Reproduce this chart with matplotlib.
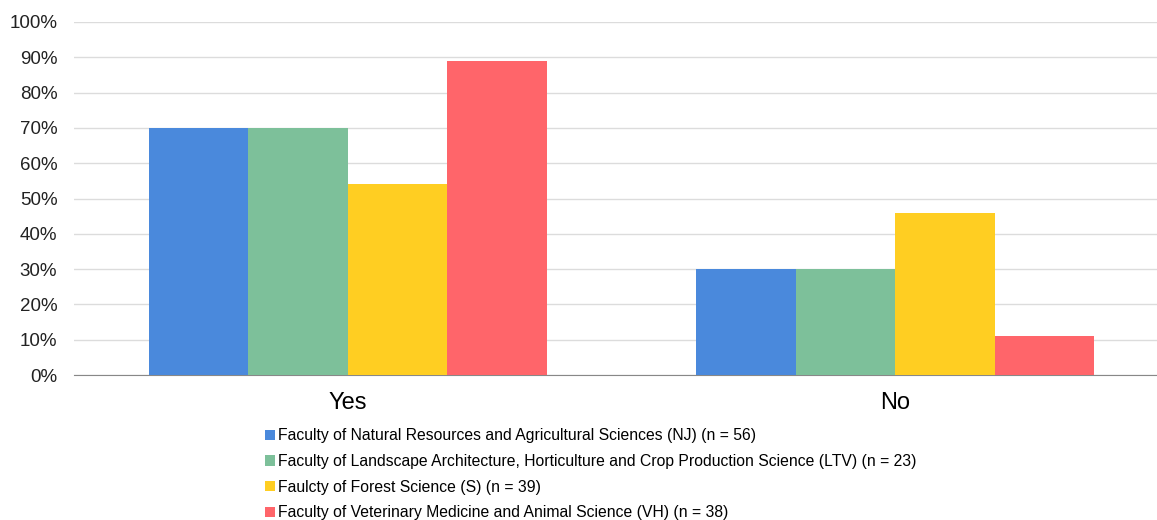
import numpy as np
import matplotlib.pyplot as plt
from matplotlib.ticker import PercentFormatter

plt.rcParams['font.family'] = ['Liberation Sans', 'DejaVu Sans']

# dati
categorie = ['Yes', 'No']
facolta = [
    'Faculty of Natural Resources and Agricultural Sciences (NJ) (n = 56)',
    'Faculty of Landscape Architecture, Horticulture and Crop Production Science (LTV) (n = 23)',
    'Faulcty of Forest Science (S) (n = 39)',
    'Faculty of Veterinary Medicine and Animal Science (VH) (n = 38)',
]
nj = [70, 30]
ltv = [70, 30]
s = [54, 46]
vh = [89, 11]
colori = ['#4A89DC', '#7DC09A', '#FFCE22', '#FF656A']

fig = plt.figure(figsize=(11.57, 5.2), dpi=100)
ax = fig.add_axes([74 / 1157, 145 / 520, 1095 / 1157, 353 / 520])

x = np.arange(len(categorie))
larghezza = 0.1816
serie = [nj, ltv, s, vh]
for i, valori in enumerate(serie):
    ax.bar(x + (i - 1.5) * larghezza, valori, larghezza, color=colori[i],
           label=facolta[i], zorder=3)

ax.set_xlim(-0.5, 1.5)
ax.set_ylim(0, 100)
ax.set_yticks(range(0, 101, 10))
ax.yaxis.set_major_formatter(PercentFormatter(decimals=0))
ax.set_xticks(x)
ax.set_xticklabels(categorie, fontsize=17)
ax.tick_params(axis='y', length=0, labelsize=13.5, pad=12, colors='#222222')
ax.tick_params(axis='x', length=0, pad=12)
ax.grid(axis='y', color='#dcdcdc', linewidth=1, zorder=0)
for lato in ['top', 'right', 'left']:
    ax.spines[lato].set_visible(False)
ax.spines['bottom'].set_color('#888888')

fig.legend(loc='upper left', bbox_to_anchor=(259 / 1157, 1 - 422 / 520),
           frameon=False, fontsize=11.3, handlelength=0.62, handleheight=0.62,
           handletextpad=0.2, labelspacing=0.68, borderaxespad=0)

plt.savefig('out.png', dpi=100)
